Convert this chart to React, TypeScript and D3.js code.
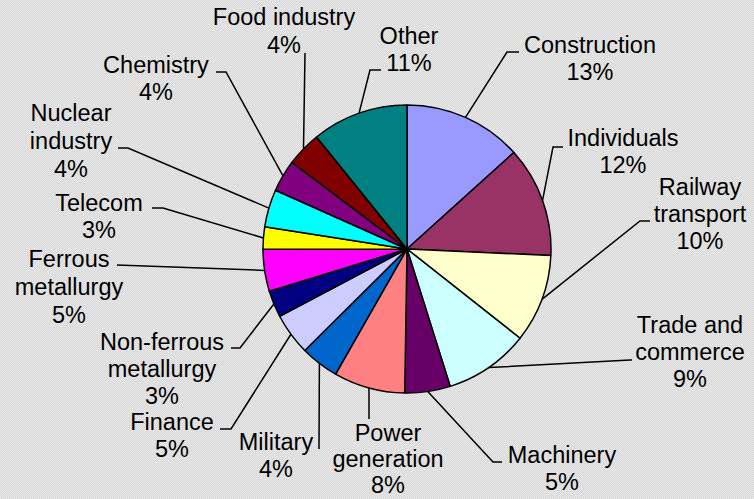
import React from "react";
import * as d3 from "d3";

const categories = [
  "Construction", "Individuals", "Railway transport", "Trade and commerce", "Machinery",
  "Power generation", "Military", "Finance", "Non-ferrous metallurgy", "Ferrous metallurgy",
  "Telecom", "Nuclear industry", "Chemistry", "Food industry", "Other",
];
const values = [13.3, 12.4, 9.9, 9.5, 5.1, 8.0, 4.3, 4.7, 3.0, 4.7, 2.5, 4.2, 3.6, 3.9, 10.8];
const percentLabels = ["13%", "12%", "10%", "9%", "5%", "8%", "4%", "5%", "3%", "5%", "3%", "4%", "4%", "4%", "11%"];
const labelLines = [
  ["Construction"], ["Individuals"], ["Railway", "transport"], ["Trade and", "commerce"], ["Machinery"],
  ["Power", "generation"], ["Military"], ["Finance"], ["Non-ferrous", "metallurgy"], ["Ferrous", "metallurgy"],
  ["Telecom"], ["Nuclear", "industry"], ["Chemistry"], ["Food industry"], ["Other"],
];
const colors = [
  "#9999FF", "#993366", "#FFFFCC", "#CCFFFF", "#660066", "#FF8080", "#0066CC", "#CCCCFF",
  "#000080", "#FF00FF", "#FFFF00", "#00FFFF", "#800080", "#800000", "#008080",
];

// layout: label text center x, first line center y, line spacing, leader elbow and end points
const labelLayout = [
  { x: 590, y: 45, lh: 27, elbow: [507, 52], end: [519, 52] },
  { x: 623, y: 138, lh: 27, elbow: [553, 147], end: [563, 147] },
  { x: 700, y: 187, lh: 27, elbow: [640, 221], end: [650, 221] },
  { x: 690, y: 325, lh: 27, elbow: [630, 360], end: [632, 360] },
  { x: 562, y: 455, lh: 27, elbow: [493, 462], end: [502, 462] },
  { x: 388, y: 433, lh: 26, elbow: [369, 419], end: [369, 419] },
  { x: 276, y: 442, lh: 27, elbow: [319, 449], end: [319, 449] },
  { x: 172, y: 422, lh: 27, elbow: [231, 429], end: [220, 429] },
  { x: 162, y: 342, lh: 27, elbow: [240, 348], end: [231, 348] },
  { x: 69, y: 259, lh: 28, elbow: [117, 265], end: [117, 265] },
  { x: 99, y: 203, lh: 27, elbow: [163, 208], end: [152, 208] },
  { x: 71, y: 113, lh: 28, elbow: [128, 148], end: [118, 148] },
  { x: 156, y: 65, lh: 27, elbow: [226, 72], end: [216, 72] },
  { x: 284, y: 17, lh: 28, elbow: [305, 53], end: [305, 53] },
  { x: 409, y: 36, lh: 27, elbow: [370, 70], end: [381, 70] },
];

const W = 754, H = 499;
const cx = 407, cy = 249, R = 144;

export default function App() {
  const pie = d3.pie<number>().sort(null).value((d) => d);
  const arcs = pie(values);
  const arc = d3.arc<d3.PieArcDatum<number>>().innerRadius(0).outerRadius(R);

  return (
    <svg width={W} height={H} style={{ position: "absolute", left: 0, top: 0 }}
      fontFamily="'Liberation Sans', Arial, sans-serif">
      <defs>
        <pattern id="bg" width="2" height="2" patternUnits="userSpaceOnUse">
          <rect width="2" height="2" fill="#d8d8d8" />
          <rect width="1" height="1" fill="#eaeaea" />
          <rect x="1" y="1" width="1" height="1" fill="#e6e6e6" />
        </pattern>
      </defs>
      <rect width={W} height={H} fill="url(#bg)" />
      <g transform={`translate(${cx},${cy})`}>
        {arcs.map((a, i) => (
          <path key={i} d={arc(a) || ""} fill={colors[i]} stroke="#000" strokeWidth={1.5} strokeLinejoin="round">
            <title>{categories[i]}</title>
          </path>
        ))}
      </g>
      {arcs.map((a, i) => {
        const angle = (a.startAngle + a.endAngle) / 2;
        const p0 = [cx + R * Math.sin(angle), cy - R * Math.cos(angle)];
        const L = labelLayout[i];
        const pts = [p0, L.elbow, L.end];
        return (
          <polyline key={"l" + i} points={pts.map((p) => p.join(",")).join(" ")}
            fill="none" stroke="#000" strokeWidth={1.5} />
        );
      })}
      {arcs.map((a, i) => {
        const L = labelLayout[i];
        const lines = [...labelLines[i], percentLabels[i]];
        return (
          <text key={"t" + i} x={L.x} y={L.y} textAnchor="middle" fontSize={23.5} fill="#000">
            {lines.map((s, j) => (
              <tspan key={j} x={L.x} y={L.y + j * L.lh} dominantBaseline="central">{s}</tspan>
            ))}
          </text>
        );
      })}
    </svg>
  );
}
